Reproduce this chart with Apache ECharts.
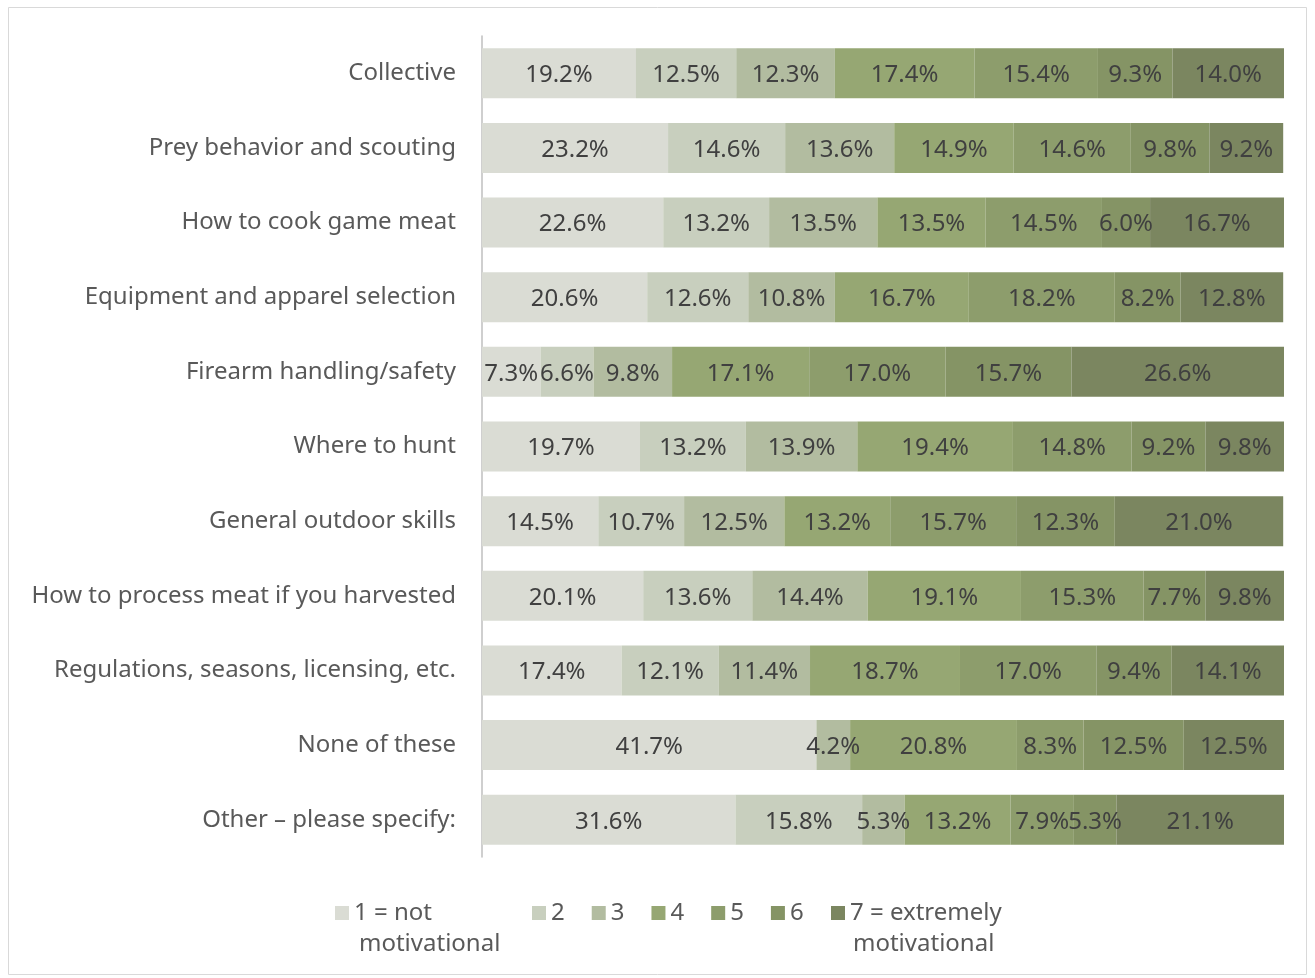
<!DOCTYPE html>
<html>
<head>
<meta charset="utf-8">
<script src="https://cdn.jsdelivr.net/npm/echarts@6/dist/echarts.min.js"></script>
<style>
  html, body { margin: 0; padding: 0; background: #ffffff; }
  #chart { width: 1315px; height: 978px; }
</style>
</head>
<body>
<div id="chart"></div>
<script>
// Topics asked about (top to bottom)
const categories = [
  'Collective',
  'Prey behavior and scouting',
  'How to cook game meat',
  'Equipment and apparel selection',
  'Firearm handling/safety',
  'Where to hunt',
  'General outdoor skills',
  'How to process meat if you harvested',
  'Regulations, seasons, licensing, etc.',
  'None of these',
  'Other \u2013 please specify:'
];

// Share of respondents (%) at each rating level, one value per topic
const level1 = [19.2, 23.2, 22.6, 20.6, 7.3, 19.7, 14.5, 20.1, 17.4, 41.7, 31.6];
const level2 = [12.5, 14.6, 13.2, 12.6, 6.6, 13.2, 10.7, 13.6, 12.1, 0, 15.8];
const level3 = [12.3, 13.6, 13.5, 10.8, 9.8, 13.9, 12.5, 14.4, 11.4, 4.2, 5.3];
const level4 = [17.4, 14.9, 13.5, 16.7, 17.1, 19.4, 13.2, 19.1, 18.7, 20.8, 13.2];
const level5 = [15.4, 14.6, 14.5, 18.2, 17.0, 14.8, 15.7, 15.3, 17.0, 8.3, 7.9];
const level6 = [9.3, 9.8, 6.0, 8.2, 15.7, 9.2, 12.3, 7.7, 9.4, 12.5, 5.3];
const level7 = [14.0, 9.2, 16.7, 12.8, 26.6, 9.8, 21.0, 9.8, 14.1, 12.5, 21.1];

const levelNames = ['1 = not motivational', '2', '3', '4', '5', '6', '7 = extremely motivational'];
const levelData = [level1, level2, level3, level4, level5, level6, level7];
const levelColors = ['#dadcd4', '#c8cfbe', '#b2bca0', '#96a773', '#8d9d6c', '#859465', '#7b8660'];

const FONT = '"Noto Sans", "Open Sans", sans-serif';
const SIZE = 24;

const series = levelNames.map((name, i) => ({
  name: name,
  type: 'bar',
  stack: 'total',
  barWidth: '67%',
  data: levelData[i],
  itemStyle: { color: levelColors[i] },
  label: {
    show: true,
    position: 'inside',
    offset: [0, 2],
    color: '#404040',
    fontFamily: FONT,
    fontSize: SIZE,
    formatter: p => (p.value ? p.value.toFixed(1) + '%' : '')
  },
  emphasis: { disabled: true }
}));

const legendText = { color: '#595959', fontFamily: FONT, fontSize: SIZE };
const shortName = n => n.replace(' motivational', '');

const chart = echarts.init(document.getElementById('chart'), null, { renderer: 'canvas' });
chart.setOption({
  animation: false,
  backgroundColor: '#ffffff',
  grid: { left: 482, right: 31, top: 36, bottom: 121, containLabel: false },
  xAxis: {
    type: 'value',
    min: 0,
    max: 100,
    show: false
  },
  yAxis: {
    type: 'category',
    data: categories,
    inverse: true,
    axisLine: { show: true, lineStyle: { color: '#bfbfbf', width: 1.5 } },
    axisTick: { show: false },
    axisLabel: {
      color: '#595959', fontFamily: FONT, fontSize: SIZE, margin: 26,
      padding: [3, 0, 0, 0]
    }
  },
  legend: [
    {
      data: [levelNames[0]],
      left: 330, top: 896,
      itemWidth: 14, itemHeight: 14,
      icon: 'rect',
      textStyle: legendText,
      formatter: shortName,
      selectedMode: false
    },
    {
      data: levelNames.slice(1, 6),
      left: 527, top: 896,
      itemWidth: 14, itemHeight: 14,
      itemGap: 27,
      icon: 'rect',
      textStyle: legendText,
      selectedMode: false
    },
    {
      data: [levelNames[6]],
      left: 826, top: 896,
      itemWidth: 14, itemHeight: 14,
      icon: 'rect',
      textStyle: legendText,
      formatter: shortName,
      selectedMode: false
    }
  ],
  graphic: [
    {
      type: 'rect',
      shape: { x: 8.5, y: 7.5, width: 1298, height: 967 },
      style: { fill: 'none', stroke: '#d9d9d9', lineWidth: 1 },
      silent: true
    },
    {
      type: 'text',
      left: 359, top: 932,
      style: { text: 'motivational', fill: '#595959', font: SIZE + 'px ' + FONT }
    },
    {
      type: 'text',
      left: 853, top: 932,
      style: { text: 'motivational', fill: '#595959', font: SIZE + 'px ' + FONT }
    }
  ],
  series: series
});
</script>
</body>
</html>
